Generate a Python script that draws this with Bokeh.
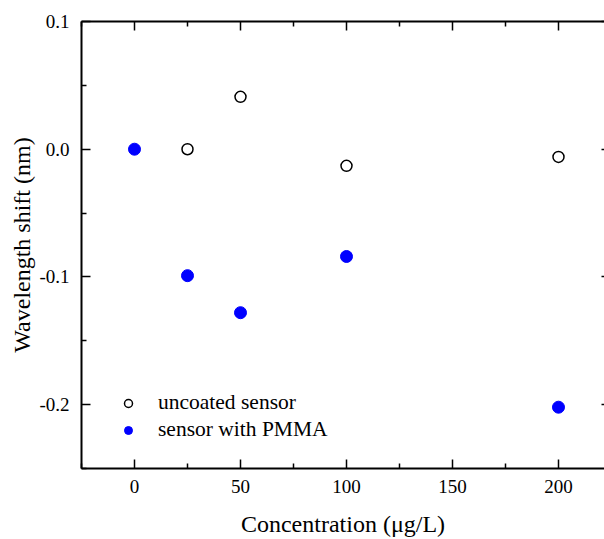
from bokeh.plotting import figure
from bokeh.models import Range1d, FixedTicker, LinearAxis, Legend, LegendItem
from bokeh.embed import file_html
from bokeh.resources import INLINE

# Data
conc_uncoated = [25, 50, 100, 200]
shift_uncoated = [0.0, 0.041, -0.013, -0.006]
conc_pmma = [0, 25, 50, 100, 200]
shift_pmma = [0.0, -0.099, -0.128, -0.084, -0.202]

x_major = [0, 50, 100, 150, 200]
x_minor = [-25, 25, 75, 125, 175, 225]
y_major = [0.1, 0.0, -0.1, -0.2]
y_minor = [0.05, -0.05, -0.15, -0.25]
y_labels = ["0.1", "0.0", "-0.1", "-0.2"]
x_labels = ["0", "50", "100", "150", "200"]

FONT = "Liberation Serif"

p = figure(width=604, height=539, output_backend="svg", toolbar_location=None,
           x_range=Range1d(-25, 221.7), y_range=Range1d(-0.25, 0.1),
           min_border_left=81, min_border_right=0, min_border_top=21, min_border_bottom=71,
           x_axis_location=None, y_axis_location=None)
p.outline_line_color = None
p.xgrid.visible = False
p.ygrid.visible = False
p.background_fill_color = "white"
p.border_fill_color = "white"

xt = FixedTicker(ticks=x_major, minor_ticks=x_minor)
yt = FixedTicker(ticks=y_major, minor_ticks=y_minor)

def style(ax):
    ax.axis_line_width = 2
    ax.axis_line_color = "black"
    ax.major_tick_line_width = 1.5
    ax.minor_tick_line_width = 1.5
    ax.major_tick_in = 9
    ax.major_tick_out = 0
    ax.minor_tick_in = 5
    ax.minor_tick_out = 0
    ax.major_label_text_font = FONT
    ax.major_label_text_font_size = "19px"
    ax.major_label_text_color = "black"
    ax.axis_label_text_font = FONT
    ax.axis_label_text_font_size = "24px"
    ax.axis_label_text_font_style = "normal"
    ax.axis_label_text_color = "black"

bottom = LinearAxis(ticker=xt, axis_label="Concentration (\u03bcg/L)")
style(bottom)
bottom.major_label_overrides = {v: s for v, s in zip(x_major, x_labels)}
bottom.major_label_standoff = 11
bottom.axis_label_standoff = 15
p.add_layout(bottom, "below")

left = LinearAxis(ticker=yt, axis_label="Wavelength shift (nm)")
style(left)
left.major_label_overrides = {v: s for v, s in zip(y_major, y_labels)}
left.major_label_standoff = 12
left.axis_label_standoff = 1
p.add_layout(left, "left")

top = LinearAxis(ticker=xt)
style(top)
top.major_label_text_font_size = "0px"
top.major_label_text_alpha = 0
top.major_label_standoff = 0
p.add_layout(top, "above")

right = LinearAxis(ticker=yt)
style(right)
right.axis_line_color = None
right.major_tick_in = 3
right.minor_tick_in = 0
right.major_label_text_font_size = "0px"
right.major_label_text_alpha = 0
right.major_label_standoff = 0
p.add_layout(right, "right")

r1 = p.scatter(conc_uncoated, shift_uncoated, size=11, marker="circle",
               fill_color="white", line_color="black", line_width=1.5)
r2 = p.scatter(conc_pmma, shift_pmma, size=12, marker="circle",
               fill_color="#0000ff", line_color="#0000ff", line_width=1)

legend = Legend(items=[LegendItem(label="uncoated sensor", renderers=[r1]),
                       LegendItem(label="sensor with PMMA", renderers=[r2])],
                location=(37, 26))
legend.border_line_color = None
legend.background_fill_alpha = 0
legend.label_text_font = FONT
legend.label_text_font_size = "21.5px"
legend.label_text_color = "black"
legend.glyph_width = 20
legend.glyph_height = 20
legend.label_height = 20
legend.label_standoff = 20
legend.spacing = 2
legend.padding = 0
legend.margin = 0
p.add_layout(legend, "center")

open("out.html", "w").write(file_html(p, INLINE))
